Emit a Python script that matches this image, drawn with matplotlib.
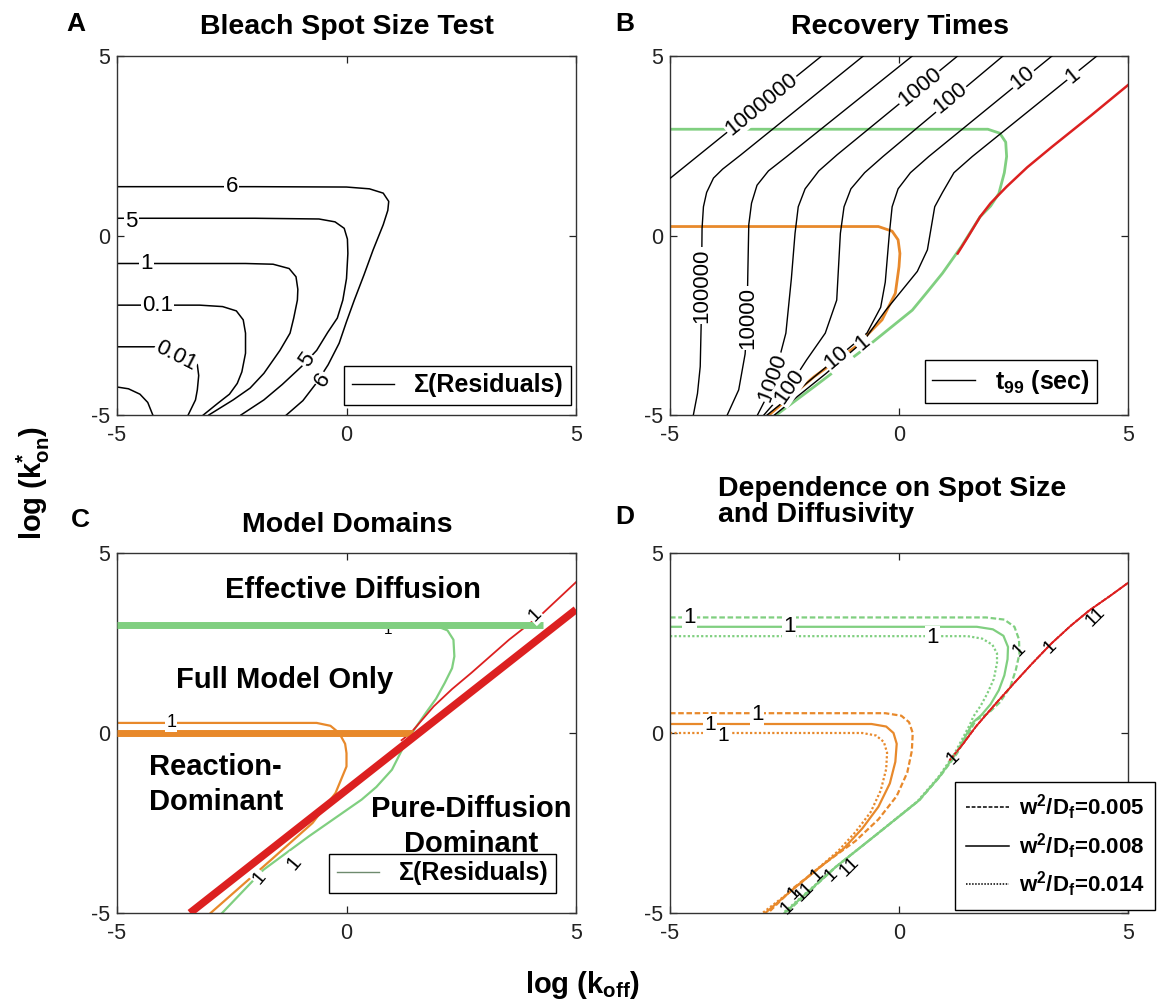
import numpy as np
import matplotlib.pyplot as plt
from matplotlib.lines import Line2D

plt.rcParams['font.family'] = ['Liberation Sans', 'DejaVu Sans']
plt.rcParams['mathtext.fontset'] = 'custom'
plt.rcParams['mathtext.rm'] = 'Liberation Sans'
plt.rcParams['mathtext.bf'] = 'Liberation Sans:bold'
plt.rcParams['mathtext.it'] = 'Liberation Sans:italic'
plt.rcParams['mathtext.default'] = 'bf'
plt.rcParams['axes.unicode_minus'] = False

GREEN = '#80cf80'
ORANGE = '#e8892b'
RED = '#dc2020'

# ---------------- data (log koff, log kon*) ----------------
# A: residual contours
a6_x = [-5, -2, 0, 0.5, 0.8, 0.92, 0.9, 0.8, 0.58, 0.38, 0.17, 0.0, -0.16, -0.4, -0.65, -0.95, -1.31]
a6_y = [1.36, 1.36, 1.35, 1.3, 1.18, 0.95, 0.7, 0.3, -0.4, -1.1, -1.8, -2.4, -3.0, -3.6, -4.1, -4.6, -5]
a5_x = [-5, -2, -0.6, -0.25, -0.05, 0.02, 0.03, 0.0, -0.08, -0.2, -0.41, -0.65, -0.98, -1.4, -1.8, -2.3]
a5_y = [0.48, 0.48, 0.46, 0.38, 0.2, -0.1, -0.5, -1.2, -1.8, -2.3, -2.7, -3.2, -3.65, -4.15, -4.58, -5]
a1_x = [-5, -2.2, -1.6, -1.25, -1.1, -1.06, -1.07, -1.15, -1.23, -1.45, -1.8, -2.1, -2.47, -3.0]
a1_y = [-0.78, -0.78, -0.8, -0.92, -1.15, -1.5, -1.8, -2.3, -2.72, -3.2, -3.84, -4.25, -4.58, -5]
a01_x = [-5, -3.2, -2.7, -2.4, -2.25, -2.2, -2.2, -2.28, -2.38, -2.55, -2.8, -3.12]
a01_y = [-1.94, -1.94, -1.98, -2.1, -2.35, -2.72, -3.28, -3.8, -4.12, -4.42, -4.67, -5]
a001_x = [-5, -4.2, -3.7, -3.4, -3.25, -3.22, -3.25, -3.29, -3.45]
a001_y = [-3.1, -3.1, -3.15, -3.35, -3.6, -3.9, -4.3, -4.58, -5]
a_low_x = [-5, -4.75, -4.5, -4.33, -4.22]
a_low_y = [-4.22, -4.27, -4.42, -4.65, -5]

# B: t99 contours (black), model boundaries (coloured)
b_t99 = {
    '1000000': ([-5, -1.69], [1.59, 5]),
    '100000': ([-0.78, -3.45, -3.85, -4.05, -4.2, -4.27, -4.3, -4.31, -4.32, -4.34, -4.4, -4.49],
               [5, 2.25, 1.85, 1.6, 1.2, 0.8, 0.2, -1.0, -2.5, -3.65, -4.4, -5]),
    '10000': ([0.29, -2.45, -2.85, -3.1, -3.22, -3.28, -3.3, -3.32, -3.36, -3.5, -3.75],
              [5, 2.2, 1.8, 1.4, 0.9, 0.3, -1.0, -2.5, -3.3, -4.3, -5]),
    '1000': ([1.28, -1.35, -1.75, -2.05, -2.2, -2.27, -2.35, -2.47, -2.65, -2.85, -3.09],
             [5, 2.25, 1.8, 1.3, 0.8, 0.06, -1.2, -2.72, -3.6, -4.4, -5]),
    '100': ([2.27, -0.35, -0.75, -1.05, -1.2, -1.28, -1.36, -1.61, -2.02, -2.35, -2.95],
            [5, 2.2, 1.75, 1.3, 0.8, 0.06, -1.8, -2.72, -3.47, -4.12, -5]),
    '10': ([3.34, 0.65, 0.25, -0.02, -0.15, -0.21, -0.3, -0.4, -0.7, -1.36, -2.1, -2.88],
           [5, 2.2, 1.75, 1.3, 0.8, 0.06, -1.3, -2.0, -2.72, -3.42, -4.2, -5]),
    '1': ([4.32, 1.6, 1.2, 0.95, 0.78, 0.62, 0.4, 0.05, -0.3, -0.78, -1.6, -2.72],
          [5, 2.2, 1.75, 1.2, 0.8, -0.4, -1.0, -1.55, -2.1, -2.95, -3.85, -5]),
}
b_green_x = [-5, 1.94, 2.2, 2.33, 2.35, 2.3, 2.18, 2.0, 1.77, 1.36, 0.95, 0.6, 0.29, -0.7, -1.85, -2.68]
b_green_y = [2.96, 2.96, 2.85, 2.6, 2.2, 1.75, 1.17, 0.82, 0.52, -0.31, -1.05, -1.6, -2.08, -3.1, -4.21, -5]
b_orange_x = [-5, -0.45, -0.15, -0.02, 0.02, 0.0, -0.08, -0.37, -0.95, -1.85, -2.84]
b_orange_y = [0.25, 0.25, 0.12, -0.12, -0.5, -0.87, -1.61, -2.35, -3.1, -3.93, -5]
b_red_x = [1.28, 1.5, 1.77, 2.0, 2.35, 2.8, 3.34, 4.2, 5]
b_red_y = [-0.5, -0.05, 0.52, 0.9, 1.36, 1.9, 2.47, 3.35, 4.19]

# C: model domains
c_green_thin_x = [-5, 1.9, 2.2, 2.33, 2.35, 2.3, 2.14, 1.95, 1.73, 1.32, 0.99, 0.65, 0.33, -0.82, -1.81, -2.71]
c_green_thin_y = [3.0, 3.0, 2.85, 2.59, 2.13, 1.8, 1.39, 0.95, 0.56, -0.19, -1.02, -1.5, -1.85, -2.87, -3.8, -5]
c_orange_thin_x = [-5, -0.65, -0.35, -0.16, -0.03, 0.0, 0.0, -0.24, -0.74, -1.64, -2.96]
c_orange_thin_y = [0.28, 0.28, 0.2, 0.0, -0.3, -0.56, -0.93, -1.67, -2.5, -3.52, -5]
c_red_thin_x = [1.2, 1.4, 1.9, 2.3, 2.72, 3.54, 4.28, 5]
c_red_thin_y = [-0.2, 0.0, 0.74, 1.22, 1.67, 2.59, 3.33, 4.19]
c_green_bound_x = [-5, 4.28]
c_green_bound_y = [3.0, 3.0]
c_orange_bound_x = [-5, 1.44]
c_orange_bound_y = [0.0, 0.0]
c_red_bound_x = [-3.41, 5]
c_red_bound_y = [-5, 3.43]

# D: three spot size / diffusivity settings
w2df = ['0.005', '0.008', '0.014']
d_green_x = [
    [-5, 1.9, 2.3, 2.52, 2.62, 2.63, 2.55, 2.43, 2.2, 1.95, 1.68, 1.27, 0.9, 0.45, -0.54, -1.37, -2.47],
    [-5, 1.7, 2.05, 2.28, 2.38, 2.37, 2.3, 2.18, 2.0, 1.8, 1.62, 1.24, 0.88, 0.43, -0.56, -1.39, -2.5],
    [-5, 1.5, 1.82, 2.04, 2.14, 2.14, 2.07, 1.93, 1.78, 1.62, 1.55, 1.2, 0.85, 0.4, -0.58, -1.41, -2.53],
]
d_green_y = [
    [3.21, 3.21, 3.15, 2.95, 2.6, 2.2, 1.75, 1.28, 0.85, 0.55, 0.36, -0.56, -1.2, -1.86, -2.87, -3.71, -5],
    [2.95, 2.95, 2.88, 2.7, 2.39, 2.05, 1.6, 1.19, 0.8, 0.5, 0.3, -0.58, -1.22, -1.88, -2.89, -3.73, -5],
    [2.69, 2.69, 2.62, 2.45, 2.21, 1.95, 1.5, 1.1, 0.75, 0.45, 0.24, -0.6, -1.24, -1.9, -2.91, -3.75, -5],
]
d_orange_x = [
    [-5, -0.3, 0.05, 0.22, 0.3, 0.28, 0.18, -0.05, -0.45, -0.95, -1.6, -2.3, -2.86],
    [-5, -0.6, -0.28, -0.12, -0.05, -0.08, -0.2, -0.45, -0.8, -1.2, -1.75, -2.35, -2.92],
    [-5, -0.8, -0.5, -0.33, -0.26, -0.28, -0.4, -0.62, -0.95, -1.33, -1.85, -2.42, -2.98],
]
d_orange_y = [
    [0.55, 0.55, 0.48, 0.3, 0.0, -0.5, -1.1, -1.75, -2.4, -3.0, -3.6, -4.3, -5],
    [0.25, 0.25, 0.18, 0.0, -0.3, -0.8, -1.4, -2.05, -2.65, -3.2, -3.75, -4.38, -5],
    [0.0, 0.0, -0.07, -0.25, -0.55, -1.0, -1.6, -2.2, -2.75, -3.28, -3.85, -4.45, -5],
]
d_red_x = [1.11, 1.4, 1.68, 2.1, 2.51, 2.9, 3.33, 3.75, 4.16, 4.6, 5.0]
d_red_y = [-0.75, -0.3, 0.18, 0.8, 1.38, 1.92, 2.49, 2.98, 3.41, 3.8, 4.17]
d_styles = [(0, (2.5, 1.2)), '-', (0, (1, 1))]

ticks = [-5, 0, 5]

# ---------------- figure ----------------
fig = plt.figure(figsize=(11.7, 10.05), dpi=100)
W, H = 1170.0, 1005.0


def axes_px(x0, y0, x1, y1):
    return fig.add_axes([x0 / W, 1 - y1 / H, (x1 - x0) / W, (y1 - y0) / H])


def style(ax):
    ax.set_xlim(-5, 5)
    ax.set_ylim(-5, 5)
    ax.set_xticks(ticks)
    ax.set_yticks(ticks)
    ax.tick_params(direction='in', top=True, right=True, length=5, width=0.9,
                   labelsize=15.5, colors='#222222')
    ax.tick_params(axis='x', pad=7)
    ax.tick_params(axis='y', pad=5)
    for s in ax.spines.values():
        s.set_linewidth(1.0)
        s.set_color('#333333')


def clab(ax, x, y, s, rot=0, box=True, size=16, z=5):
    kw = dict(ha='center', va='center', rotation=rot, rotation_mode='anchor',
              fontsize=size, color='k', zorder=z)
    if box:
        kw['bbox'] = dict(boxstyle='square,pad=0.05', fc='white', ec='none')
    ax.text(x, y, s, **kw)


def box_legend(ax, handles, labels, anchor, **kw):
    leg = ax.legend(handles, labels, loc='lower right', bbox_to_anchor=anchor,
                    frameon=True, fancybox=False, framealpha=1, edgecolor='k',
                    prop={'weight': 'bold', 'size': 18}, handlelength=1.7,
                    borderpad=0.3, borderaxespad=0, handletextpad=0.8, **kw)
    leg.get_frame().set_linewidth(1.0)
    return leg


axA = axes_px(117, 56, 576, 415)
axB = axes_px(670, 56, 1128, 415)
axC = axes_px(117, 553, 576, 913)
axD = axes_px(670, 553, 1128, 913)
for ax in (axA, axB, axC, axD):
    style(ax)

# ---- A ----
for xs, ys in [(a6_x, a6_y), (a5_x, a5_y), (a1_x, a1_y), (a01_x, a01_y),
               (a001_x, a001_y), (a_low_x, a_low_y)]:
    axA.plot(xs, ys, color='k', lw=1.1)
clab(axA, -2.5, 1.36, '6')
clab(axA, -4.69, 0.4, '5')
clab(axA, -4.36, -0.78, '1')
clab(axA, -4.12, -1.94, '0.1')
clab(axA, -3.72, -3.36, '0.01', rot=-27)
clab(axA, -0.86, -3.47, '5', rot=55)
clab(axA, -0.52, -4.02, '6', rot=57)
box_legend(axA, [Line2D([], [], color='k', lw=1)], ['Σ(Residuals)'], (0.99, 0.028))

# ---- B ----
for lev, (xs, ys) in b_t99.items():
    axB.plot(xs, ys, color='k', lw=1.0, zorder=3)
axB.plot(b_green_x, b_green_y, color=GREEN, lw=2, zorder=2)
axB.plot(b_orange_x, b_orange_y, color=ORANGE, lw=2, zorder=2)
axB.plot(b_red_x, b_red_y, color=RED, lw=1.8, zorder=2)
clab(axB, -3.0, 3.66, '1000000', rot=39)
clab(axB, 0.45, 4.12, '1000', rot=39)
clab(axB, 1.12, 3.82, '100', rot=39)
clab(axB, 2.7, 4.38, '10', rot=39)
clab(axB, 3.8, 4.46, '1', rot=39)
clab(axB, -4.31, -1.4, '100000', rot=90)
clab(axB, -3.31, -2.3, '10000', rot=90)
clab(axB, -2.75, -3.95, '1000', rot=70)
clab(axB, -2.4, -4.2, '100', rot=55)
clab(axB, -1.36, -3.42, '10', rot=40)
clab(axB, -0.8, -2.98, '1', rot=40)
box_legend(axB, [Line2D([], [], color='k', lw=1)], [r't$_{99}$ (sec)'], (0.932, 0.033))

# ---- C ----
axC.plot(c_green_thin_x, c_green_thin_y, color=GREEN, lw=1.6, zorder=2)
axC.plot(c_orange_thin_x, c_orange_thin_y, color=ORANGE, lw=1.6, zorder=2)
axC.plot(c_red_thin_x, c_red_thin_y, color=RED, lw=1.3, zorder=2)
clab(axC, 0.91, 2.85, '1', size=11, box=False, z=1)
axC.plot(c_green_bound_x, c_green_bound_y, color=GREEN, lw=5, zorder=3, solid_capstyle='butt')
axC.plot(c_orange_bound_x, c_orange_bound_y, color=ORANGE, lw=5, zorder=3, solid_capstyle='butt')
axC.plot(c_red_bound_x, c_red_bound_y, color=RED, lw=5.5, zorder=4, solid_capstyle='butt')
clab(axC, -3.82, 0.28, '1', size=13)
clab(axC, -1.89, -4.03, '1', rot=50, size=14)
clab(axC, -1.15, -3.61, '1', rot=50, size=15)
clab(axC, 4.1, 3.28, '1', rot=45, size=14)
reg = dict(fontsize=21, fontweight='bold', zorder=6)
axC.text(0.13, 3.98, 'Effective Diffusion', ha='center', va='center', **reg)
axC.text(-1.35, 1.48, 'Full Model Only', ha='center', va='center', **reg)
axC.text(-4.3, -1.43, 'Reaction-\nDominant', ha='left', va='center', linespacing=1.3, **reg)
axC.text(2.72, -2.6, 'Pure-Diffusion\nDominant', ha='center', va='center', linespacing=1.3, **reg)
box_legend(axC, [Line2D([], [], color='#6e8a6e', lw=1)], ['Σ(Residuals)'], (0.957, 0.056))

# ---- D ----
for i in range(3):
    axD.plot(d_green_x[i], d_green_y[i], color=GREEN, lw=1.6, ls=d_styles[i], zorder=2)
    axD.plot(d_orange_x[i], d_orange_y[i], color=ORANGE, lw=1.6, ls=d_styles[i], zorder=2)
    axD.plot(d_red_x, d_red_y, color=RED, lw=1.3, ls=d_styles[i], zorder=2)
clab(axD, -4.57, 3.21, '1')
clab(axD, -2.4, 2.95, '1')
clab(axD, 0.73, 2.64, '1')
clab(axD, -3.1, 0.52, '1')
clab(axD, -4.12, 0.24, '1', size=15)
clab(axD, -3.84, -0.08, '1', size=15)
for x, y, s in [(2.63, 2.3, '1'), (3.29, 2.4, '1'), (4.28, 3.23, '11'), (1.19, -0.7, '1'),
                (-1.08, -3.71, '11'), (-1.49, -3.94, '1'), (-1.78, -3.94, '1'),
                (-2.07, -4.4, '11'), (-2.28, -4.45, '1'), (-2.44, -4.86, '1')]:
    clab(axD, x, y, s, rot=45, box=False, size=14)
d_handles = [Line2D([], [], color='k', lw=1.1, ls=st) for st in d_styles]
d_labels = [r'w$^{2}$/D$_{f}$=' + v for v in w2df]
legD = axD.legend(d_handles, d_labels, loc='upper left', bbox_to_anchor=(0.623, 0.365),
                  frameon=True, fancybox=False, framealpha=1, edgecolor='k',
                  prop={'weight': 'bold', 'size': 16}, handlelength=1.9,
                  borderpad=0.5, borderaxespad=0, handletextpad=0.45, labelspacing=0.4)
legD.get_frame().set_linewidth(1.0)
legD.set_zorder(10)

# ---- titles, panel letters, axis labels ----
tt = dict(fontsize=20.5, fontweight='bold', va='center')
fig.text(347 / W, 1 - 27 / H, 'Bleach Spot Size Test', ha='center', **tt)
fig.text(900 / W, 1 - 27 / H, 'Recovery Times', ha='center', **tt)
fig.text(347 / W, 1 - 525 / H, 'Model Domains', ha='center', **tt)
fig.text(718 / W, 1 - 502 / H, 'Dependence on Spot Size\nand Diffusivity', ha='left',
         linespacing=1.05, **tt)
for s, x, y in [('A', 76, 24), ('B', 625, 24), ('C', 80, 520), ('D', 625, 517)]:
    fig.text(x / W, 1 - y / H, s, fontsize=19, fontweight='bold', ha='center', va='center')
fig.text(33 / W, 1 - 483 / H, r'log (k$^{*}_{on}$)', rotation=90, fontsize=21,
         fontweight='bold', ha='center', va='center')
fig.text(583 / W, 1 - 985 / H, r'log (k$_{off}$)', fontsize=21, fontweight='bold',
         ha='center', va='center')

fig.savefig('out.png', dpi=100)
